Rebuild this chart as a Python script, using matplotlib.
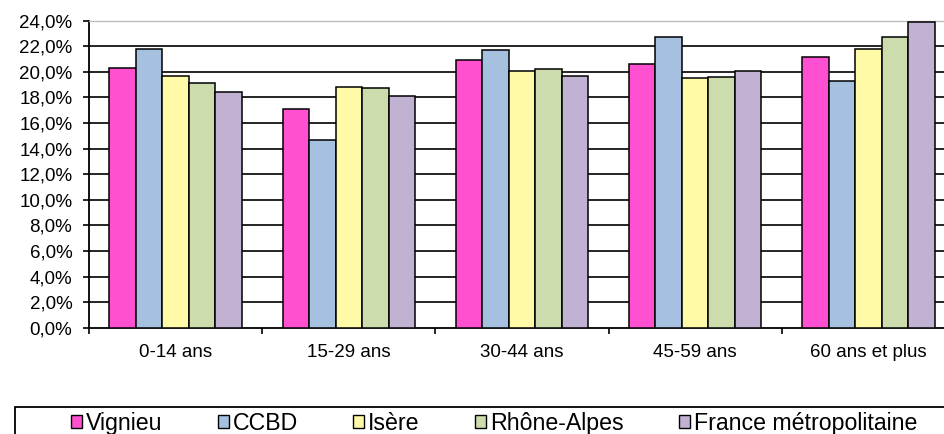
import numpy as np
import matplotlib
matplotlib.use("Agg")
import matplotlib.pyplot as plt
from matplotlib.patches import Patch, Rectangle
from matplotlib.ticker import FuncFormatter

plt.rcParams["font.family"] = ["Liberation Sans", "DejaVu Sans"]

age_groups = ["0-14 ans", "15-29 ans", "30-44 ans", "45-59 ans", "60 ans et plus"]
territories = ["Vignieu", "CCBD", "Isère", "Rhône-Alpes", "France métropolitaine"]
colors = ["#ff50d2", "#a6c0e0", "#fffaa8", "#cddcad", "#c1b2d4"]

# part of the population in each age group (%)
vignieu = [20.3, 17.1, 20.9, 20.6, 21.2]
ccbd = [21.8, 14.7, 21.7, 22.7, 19.3]
isere = [19.7, 18.8, 20.1, 19.5, 21.8]
rhone_alpes = [19.1, 18.7, 20.2, 19.6, 22.7]
france = [18.4, 18.1, 19.7, 20.1, 23.9]
series = [vignieu, ccbd, isere, rhone_alpes, france]

W, H = 944, 434
fig = plt.figure(figsize=(W / 100, H / 100), dpi=100)
fig.patch.set_facecolor("white")

# plot area runs a little past the right edge of the canvas
ax = fig.add_axes([89 / W, (H - 327.7) / H, (955 - 89) / W, (327.7 - 20.7) / H])

x = np.arange(len(age_groups))
bw = 0.153
for j, (vals, name, col) in enumerate(zip(series, territories, colors)):
    ax.bar(x + (j - 2) * bw, vals, width=bw, color=col, edgecolor="black",
           linewidth=1.1, label=name, zorder=3)

ax.set_xlim(-0.5, len(age_groups) - 0.5)
ax.set_ylim(0, 24)
ax.set_yticks(np.arange(0, 24.1, 2))
ax.yaxis.set_major_formatter(FuncFormatter(lambda v, _: f"{v:.1f}%".replace(".", ",")))

for yv in np.arange(2, 23, 2):
    ax.axhline(yv, color="black", linewidth=1.2, zorder=1)

ax.set_xticks(np.arange(-0.5, len(age_groups)), labels=[])
ax.set_xticks(x, labels=age_groups, minor=True)
ax.tick_params(axis="x", which="major", direction="out", length=4.5, width=1.2)
ax.tick_params(axis="x", which="minor", length=0, pad=11.5, labelsize=13.5)
ax.tick_params(axis="y", direction="out", length=4.5, width=1.2, pad=7.5, labelsize=13.5)

for side in ("left", "bottom"):
    ax.spines[side].set_linewidth(1.3)
ax.spines["top"].set_color("#bdbdbd")
ax.spines["top"].set_linewidth(1.0)
ax.spines["right"].set_visible(False)

# legend at the bottom, its frame running off the canvas
handles = [Patch(facecolor=c, edgecolor="black", linewidth=1.0) for c in colors]
fig.legend(handles, territories, loc="upper left", bbox_to_anchor=(71 / W, 1 - 412 / H),
           ncol=5, frameon=False, fontsize=16.7, borderpad=0, borderaxespad=0,
           handlelength=0.48, handleheight=0.48, handletextpad=0.15,
           columnspacing=2.4)
fig.add_artist(Rectangle((15 / W, -0.2), 1.2, 0.2 + (H - 407) / H,
                         transform=fig.transFigure, fill=False,
                         edgecolor="black", linewidth=1.3))

fig.savefig("out.png", dpi=100)
